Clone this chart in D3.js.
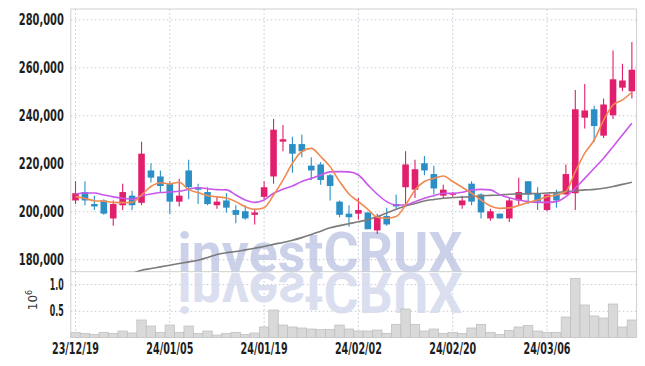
<!DOCTYPE html>
<html>
<head>
<meta charset="utf-8">
<script src="https://cdn.jsdelivr.net/npm/d3@7"></script>
<style>
  body { margin: 0; background: #fff; }
  svg text { font-family: "DejaVu Sans Condensed", "Liberation Sans", sans-serif; }
</style>
</head>
<body>
<svg id="chart" width="645" height="366"></svg>
<script>
// 取引日 (60日分)
const dates = [
  "2023-12-19","2023-12-20","2023-12-21","2023-12-22","2023-12-26","2023-12-27","2023-12-28",
  "2024-01-02","2024-01-03","2024-01-04","2024-01-05","2024-01-08","2024-01-09","2024-01-10",
  "2024-01-11","2024-01-12","2024-01-15","2024-01-16","2024-01-17","2024-01-18","2024-01-19",
  "2024-01-22","2024-01-23","2024-01-24","2024-01-25","2024-01-26","2024-01-29","2024-01-30",
  "2024-01-31","2024-02-01","2024-02-02","2024-02-05","2024-02-06","2024-02-07","2024-02-08",
  "2024-02-13","2024-02-14","2024-02-15","2024-02-16","2024-02-19","2024-02-20","2024-02-21",
  "2024-02-22","2024-02-23","2024-02-26","2024-02-27","2024-02-28","2024-02-29","2024-03-04",
  "2024-03-05","2024-03-06","2024-03-07","2024-03-08","2024-03-11","2024-03-12","2024-03-13",
  "2024-03-14","2024-03-15","2024-03-18","2024-03-19"
];
const open = [204500,208000,203000,204500,197000,202500,206500,203500,217000,214500,211500,204000,217000,210000,208000,
  202500,204500,200500,200000,198500,206000,214500,229000,228000,228000,219000,219500,215000,204000,199000,
  199000,199500,192000,198000,203000,210000,209000,220000,215500,206500,207000,202500,211500,207000,197000,
  199000,197000,204500,212500,207500,200500,207500,207000,207500,239000,242500,231500,240000,251500,250000];
const high = [212500,212500,206500,205000,204500,211500,208500,229000,220000,217000,212500,213500,221500,211500,210000,
  206000,207500,202500,202500,201000,212500,238500,236000,231000,232000,222500,220500,215500,204500,202500,
  205500,199500,199000,201500,207000,225000,221500,223000,219000,211000,208000,206500,212500,207500,201000,
  199000,205500,214000,212500,210000,207000,209000,219500,250500,253000,244000,247000,267000,261500,270500];
const low = [203000,202500,200500,198500,194000,200500,200500,202500,212000,208000,199000,202000,205000,203000,202500,
  201000,199500,195000,196500,194500,205000,211500,225000,216000,222500,213000,211000,204500,197500,193500,
  196500,192500,190500,194000,201000,202000,205500,215000,207000,205500,206000,201000,202500,197000,196000,
  197000,195500,202500,203000,200500,200000,201500,207000,200500,234500,229000,230500,238500,250000,247000];
const close = [207500,204500,202000,199000,203000,208000,202500,224000,214000,210500,204000,206500,210000,209000,203000,
  204000,201500,198500,197000,199500,210000,234000,230000,224000,225000,217000,213000,210500,198500,197500,
  200500,192500,198000,194500,202000,219500,217500,217000,209500,209000,207500,204500,204000,199500,200000,
  197000,204500,208000,207000,204000,207000,204500,215500,242500,242000,235500,244500,255000,254500,259000];
const volume = [97000,78000,59000,97000,78000,122000,85000,328000,215000,97000,234000,97000,215000,78000,122000,
  47000,78000,97000,59000,85000,197000,515000,234000,197000,178000,159000,147000,153000,234000,159000,
  122000,122000,140000,78000,247000,534000,247000,122000,159000,78000,97000,78000,178000,247000,97000,
  59000,134000,197000,228000,122000,97000,97000,384000,1108000,609000,403000,365000,627000,197000,328000];
// 移動平均線
const ma5 = [206100,205300,204400,204200,203700,203600,203700,206800,210300,211900,211400,212100,209000,207800,206500,
  206000,205500,204000,201900,200800,201500,206800,213000,220000,224900,226200,222800,218600,212400,207200,
  204000,200800,197500,197100,197800,202600,208900,212400,213700,214700,212400,210000,207500,204700,202200,
  201200,201400,202400,203700,204700,206100,206800,208200,216500,224200,229700,238000,244300,246400,249600];
const ma20 = [207200,207600,207600,206800,206000,205400,205000,206400,207200,207800,208000,208300,209200,209800,209400,
  209000,208900,206800,204700,203700,204700,207500,209200,210500,212400,213700,215100,216400,216500,216400,
  215100,211000,207100,204000,202600,202600,204000,205400,206500,207500,207500,207900,208900,209100,208900,
  206900,205600,204700,204000,203700,203700,204000,206100,209600,213700,217900,222100,226900,231800,236700];
const ma60 = [null,null,null,null,null,null,174100,175400,176100,176800,177500,178200,178900,179600,180700,
  182000,182700,183200,183900,184600,185300,186200,187000,187900,189000,190300,191700,193100,194000,194800,
  195600,196500,197800,199300,200800,202200,203200,204300,204900,205400,205700,205900,206100,206400,206600,
  206800,207100,207200,207300,207400,207600,207800,208200,208500,208900,209100,209600,210300,211200,212100];
const priceTicks = [180000, 200000, 220000, 240000, 260000, 280000];
const volumeTicks = [500000, 1000000];
const dateTickIdx = [0, 10, 20, 30, 40, 50];

const svg = d3.select("#chart");

// 描画範囲
const plotLeft = 70.8, plotRight = 636.6, plotTop = 9, plotSplit = 271.7, plotBottom = 337.5;

const x = d3.scaleBand().domain(d3.range(dates.length)).range([plotLeft, plotRight]).padding(0);
const cx = i => x(i) + x.bandwidth() / 2;
const yP = d3.scaleLinear().domain([174800, 284300]).range([plotSplit, plotTop]);
const yV = d3.scaleLinear().domain([0, 1232000]).range([plotBottom, plotSplit]);

const parse = d3.timeParse("%Y-%m-%d");
const fmt = d3.timeFormat("%y/%m/%d");

const defs = svg.append("defs");
defs.append("clipPath").attr("id", "priceClip")
  .append("rect").attr("x", plotLeft).attr("y", plotTop).attr("width", plotRight - plotLeft).attr("height", plotSplit - plotTop);
defs.append("clipPath").attr("id", "reflClip")
  .append("rect").attr("x", plotLeft).attr("y", plotSplit + 1).attr("width", plotRight - plotLeft).attr("height", 45);

const grad = defs.append("linearGradient")
  .attr("id", "reflect").attr("gradientUnits", "userSpaceOnUse")
  .attr("x1", 0).attr("y1", plotSplit).attr("x2", 0).attr("y2", plotSplit + 42);
grad.append("stop").attr("offset", "0%").attr("stop-color", "#d6dbee").attr("stop-opacity", 0.9);
grad.append("stop").attr("offset", "100%").attr("stop-color", "#d6dbee").attr("stop-opacity", 0.15);

// 目盛りラベル: 細めの太字、幅を揃える
const styleTicks = width => g => g.selectAll(".tick text")
  .attr("font-size", 15.5).attr("font-weight", "bold").attr("fill", "#1e1e1e").attr("font-family", null)
  .attr("textLength", width).attr("lengthAdjust", "spacingAndGlyphs");

// 価格軸とグリッド線
svg.append("g")
  .attr("transform", `translate(${plotLeft},0)`)
  .call(d3.axisLeft(yP).tickValues(priceTicks).tickFormat(d3.format(",")).tickSizeInner(-(plotRight - plotLeft)).tickSizeOuter(0).tickPadding(7))
  .call(g => g.select(".domain").remove())
  .call(g => g.selectAll(".tick line").attr("stroke", "#c3c6d6").attr("stroke-dasharray", "1.5,2.5"))
  .call(styleTicks(45));

// 出来高軸
svg.append("g")
  .attr("transform", `translate(${plotLeft},0)`)
  .call(d3.axisLeft(yV).tickValues(volumeTicks).tickFormat(d => (d / 1e6).toFixed(1)).tickSizeInner(-(plotRight - plotLeft)).tickSizeOuter(0).tickPadding(7))
  .call(g => g.select(".domain").remove())
  .call(g => g.selectAll(".tick line").attr("stroke", "#c3c6d6").attr("stroke-dasharray", "1.5,2.5"))
  .call(styleTicks(14));

// 日付の縦グリッド
svg.append("g")
  .selectAll("line")
  .data(dateTickIdx)
  .join("line")
    .attr("x1", d => cx(d)).attr("x2", d => cx(d))
    .attr("y1", plotTop).attr("y2", plotBottom)
    .attr("stroke", "#c3c6d6")
    .attr("stroke-dasharray", "1.5,2.5");

// 日付ラベル
svg.append("g")
  .attr("transform", `translate(0,${plotBottom})`)
  .call(d3.axisBottom(x).tickValues(dateTickIdx).tickFormat(i => fmt(parse(dates[i]))).tickSizeInner(0).tickSizeOuter(0).tickPadding(5))
  .call(g => g.select(".domain").remove())
  .call(styleTicks(47));

// ウォーターマーク (本体と反射)
const wmX = 320, wmY = plotSplit;
svg.append("text")
  .attr("x", wmX).attr("y", wmY)
  .attr("text-anchor", "middle")
  .style("font-family", "Roboto, 'DejaVu Sans', sans-serif")
  .attr("font-weight", "bold")
  .attr("font-size", 55)
  .attr("textLength", 285).attr("lengthAdjust", "spacingAndGlyphs")
  .attr("fill", "#b9c1e0").attr("fill-opacity", 0.75)
  .text("investCRUX");
svg.append("g").attr("clip-path", "url(#reflClip)")
  .append("text")
  .attr("transform", `translate(${wmX},${wmY + 1}) scale(1,-1)`)
  .attr("text-anchor", "middle")
  .style("font-family", "Roboto, 'DejaVu Sans', sans-serif")
  .attr("font-weight", "bold")
  .attr("font-size", 55)
  .attr("textLength", 285).attr("lengthAdjust", "spacingAndGlyphs")
  .attr("fill", "url(#reflect)")
  .text("investCRUX");

// 出来高バー
svg.append("g")
  .selectAll("rect")
  .data(volume)
  .join("rect")
    .attr("x", (d, i) => x(i))
    .attr("width", x.bandwidth())
    .attr("y", d => yV(d))
    .attr("height", d => yV(0) - yV(d))
    .attr("fill", "#d9d9d9")
    .attr("stroke", "#bdbdbd")
    .attr("stroke-width", 0.7);

// 枠線
const frame = svg.append("g").attr("stroke", "#cfcfcf").attr("stroke-width", 1);
frame.append("line").attr("x1", plotLeft).attr("x2", plotRight).attr("y1", plotTop).attr("y2", plotTop);
frame.append("line").attr("x1", plotLeft).attr("x2", plotRight).attr("y1", plotSplit).attr("y2", plotSplit);
frame.append("line").attr("x1", plotLeft).attr("x2", plotLeft).attr("y1", plotTop).attr("y2", plotBottom);
frame.append("line").attr("x1", plotRight).attr("x2", plotRight).attr("y1", plotTop).attr("y2", plotBottom);

// ローソク足
const up = "#e21f6c", down = "#2b8fc6";
const candles = svg.append("g").attr("clip-path", "url(#priceClip)")
  .selectAll("g")
  .data(d3.range(dates.length))
  .join("g");
candles.append("line")
  .attr("x1", i => cx(i)).attr("x2", i => cx(i))
  .attr("y1", i => yP(high[i])).attr("y2", i => yP(low[i]))
  .attr("stroke", i => close[i] >= open[i] ? up : down)
  .attr("stroke-width", 1.1);
candles.append("rect")
  .attr("x", i => cx(i) - 3.3)
  .attr("width", 6.6)
  .attr("y", i => yP(Math.max(open[i], close[i])))
  .attr("height", i => Math.max(1.5, Math.abs(yP(open[i]) - yP(close[i]))))
  .attr("fill", i => close[i] >= open[i] ? up : down);

// 移動平均線
const maLine = arr => d3.line()
  .defined(i => arr[i] != null)
  .x(i => cx(i))
  .y(i => yP(arr[i]))
  .curve(d3.curveMonotoneX)(d3.range(arr.length));

const lines = svg.append("g").attr("clip-path", "url(#priceClip)").attr("fill", "none").attr("stroke-width", 1.6);
lines.append("path").attr("d", maLine(ma60)).attr("stroke", "#7b7b7b");
lines.append("path").attr("d", maLine(ma20)).attr("stroke", "#c957ea");
lines.append("path").attr("d", maLine(ma5)).attr("stroke", "#ef8a50");

// 単位ラベル
const unit = svg.append("text")
  .attr("transform", "translate(37,300) rotate(-90)")
  .attr("text-anchor", "middle")
  .style("font-family", "'DejaVu Sans', sans-serif")
  .attr("font-size", 12)
  .attr("fill", "#333");
unit.append("tspan").text("10");
unit.append("tspan").attr("font-size", 8).attr("dy", -5).text("6");
</script>
</body>
</html>
